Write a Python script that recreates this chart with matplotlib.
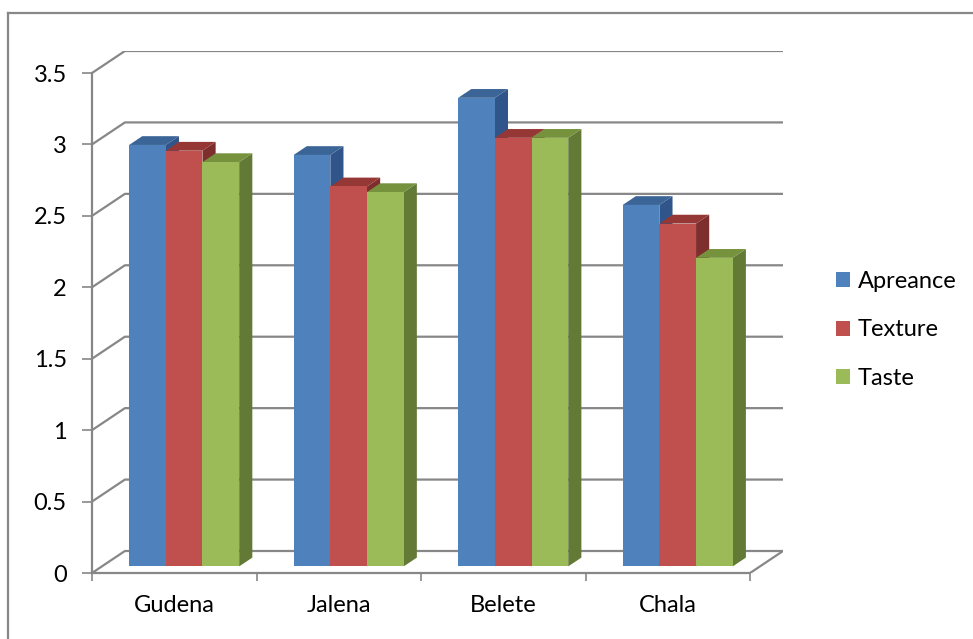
import matplotlib.pyplot as plt
from matplotlib.patches import Polygon, Patch
from matplotlib.lines import Line2D
import numpy as np

categories = ["Gudena", "Jalena", "Belete", "Chala"]
series_names = ["Apreance", "Texture", "Taste"]
apreance = [2.95, 2.88, 3.28, 2.53]
texture = [2.91, 2.66, 3.00, 2.40]
taste = [2.83, 2.62, 3.00, 2.16]
y_ticks = [0, 0.5, 1, 1.5, 2, 2.5, 3, 3.5]
y_tick_labels = ["0", "0.5", "1", "1.5", "2", "2.5", "3", "3.5"]

# face colours: front, top, side
face_colors = [
    ("#4F81BD", "#3C6597", "#30558A"),
    ("#C0504D", "#953735", "#7E2E2C"),
    ("#9BBB59", "#76923C", "#637A37"),
]
grid_color = "#878787"

plt.rcParams["font.family"] = ["Lato", "DejaVu Sans"]

fig = plt.figure(figsize=(9.73, 6.39), dpi=100)

# outer chart border
fig.add_artist(Line2D([8 / 973, 8 / 973], [0, 1 - 13 / 639], color=grid_color, lw=1.6))
fig.add_artist(Line2D([8 / 973, 1], [1 - 13 / 639, 1 - 13 / 639], color=grid_color, lw=1.6))

ax = fig.add_axes([92 / 973, 1 - 573 / 639, (783 - 92) / 973, (573 - 51) / 639])

# depth of the 3D box in data units
dx, dy = 0.2, 0.154
n_cat = len(categories)
ax.set_xlim(0, n_cat + dx)
ax.set_ylim(0, y_ticks[-1] + dy)

# back wall gridlines with the left wall slant
for v in y_ticks:
    ax.plot([0, dx, n_cat + dx], [v, v + dy, v + dy], color=grid_color, lw=1.6,
            solid_capstyle="butt", zorder=1)
# floor right edge
ax.plot([n_cat, n_cat + dx], [0, dy], color=grid_color, lw=1.6, zorder=1)

# 3D bars
values = [apreance, texture, taste]
bar_w = 0.223
f0, f1 = 0.3, 0.7
start = (1 - 3 * bar_w) / 2
for i in range(n_cat):
    for s in range(3):
        v = values[s][i]
        x0 = i + start + s * bar_w + f0 * dx
        y0 = f0 * dy
        ddx, ddy = (f1 - f0) * dx, (f1 - f0) * dy
        front_c, top_c, side_c = face_colors[s]
        front = Polygon([(x0, y0), (x0 + bar_w, y0), (x0 + bar_w, y0 + v), (x0, y0 + v)],
                        closed=True, fc=front_c, ec="none", zorder=3)
        side = Polygon([(x0 + bar_w, y0), (x0 + bar_w + ddx, y0 + ddy),
                        (x0 + bar_w + ddx, y0 + v + ddy), (x0 + bar_w, y0 + v)],
                       closed=True, fc=side_c, ec="none", zorder=3)
        top = Polygon([(x0, y0 + v), (x0 + bar_w, y0 + v),
                       (x0 + bar_w + ddx, y0 + v + ddy), (x0 + ddx, y0 + v + ddy)],
                      closed=True, fc=top_c, ec="none", zorder=3)
        for p in (side, top, front):
            ax.add_patch(p)

# axes
for sp in ("top", "right"):
    ax.spines[sp].set_visible(False)
ax.spines["left"].set_bounds(0, y_ticks[-1])
ax.spines["bottom"].set_bounds(0, n_cat)
for sp in ("left", "bottom"):
    ax.spines[sp].set_color(grid_color)
    ax.spines[sp].set_linewidth(1.6)
    ax.spines[sp].set_zorder(2)

ax.set_yticks(y_ticks)
ax.set_yticklabels(y_tick_labels)
ax.tick_params(axis="y", length=7.2, width=1.2, color=grid_color, pad=11,
               labelsize=17)
ax.set_xticks(np.arange(n_cat + 1))
ax.set_xticklabels([])
ax.set_xticks(np.arange(n_cat) + 0.5, minor=True)
ax.set_xticklabels(categories, minor=True)
ax.tick_params(axis="x", which="major", length=5.5, width=1.2, color=grid_color)
ax.tick_params(axis="x", which="minor", length=0, pad=16, labelsize=17)

handles = [Patch(fc=c[0], ec="none") for c in face_colors]
fig.legend(handles, series_names, loc="center left",
           bbox_to_anchor=(815 / 973, 1 - 330 / 639), frameon=False,
           fontsize=17, handlelength=0.6, handleheight=0.6, handletextpad=0.3,
           labelspacing=1.17)

fig.savefig("out.png", dpi=100)
